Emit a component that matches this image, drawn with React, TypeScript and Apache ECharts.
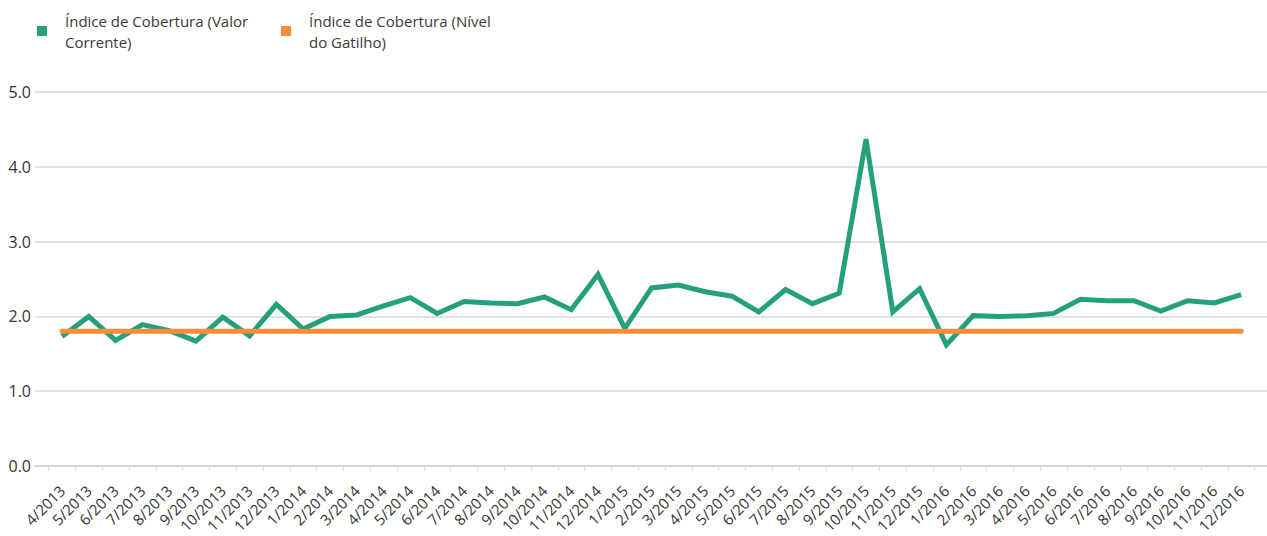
import React, { useEffect, useRef } from "react";
import * as echarts from "echarts";

const categories: string[] = [
  "4/2013", "5/2013", "6/2013", "7/2013", "8/2013", "9/2013", "10/2013", "11/2013", "12/2013",
  "1/2014", "2/2014", "3/2014", "4/2014", "5/2014", "6/2014", "7/2014", "8/2014", "9/2014", "10/2014", "11/2014", "12/2014",
  "1/2015", "2/2015", "3/2015", "4/2015", "5/2015", "6/2015", "7/2015", "8/2015", "9/2015", "10/2015", "11/2015", "12/2015",
  "1/2016", "2/2016", "3/2016", "4/2016", "5/2016", "6/2016", "7/2016", "8/2016", "9/2016", "10/2016", "11/2016", "12/2016",
];

const valorCorrente: number[] = [
  1.73, 2.0, 1.68, 1.89, 1.81, 1.67, 1.99, 1.74, 2.16,
  1.83, 2.0, 2.02, 2.14, 2.25, 2.04, 2.2, 2.18, 2.17, 2.26, 2.09, 2.56,
  1.84, 2.38, 2.42, 2.33, 2.27, 2.06, 2.36, 2.17, 2.31, 4.37, 2.06, 2.37,
  1.62, 2.01, 2.0, 2.01, 2.04, 2.23, 2.21, 2.21, 2.07, 2.21, 2.18, 2.29,
];

const nivelGatilho: number[] = [
  1.8, 1.8, 1.8, 1.8, 1.8, 1.8, 1.8, 1.8, 1.8,
  1.8, 1.8, 1.8, 1.8, 1.8, 1.8, 1.8, 1.8, 1.8, 1.8, 1.8, 1.8,
  1.8, 1.8, 1.8, 1.8, 1.8, 1.8, 1.8, 1.8, 1.8, 1.8, 1.8, 1.8,
  1.8, 1.8, 1.8, 1.8, 1.8, 1.8, 1.8, 1.8, 1.8, 1.8, 1.8, 1.8,
];

const yTicks = { min: 0, max: 5, interval: 1 };

const seriesNames = [
  "Índice de Cobertura (Valor Corrente)",
  "Índice de Cobertura (Nível do Gatilho)",
];
const legendLabels: Record<string, string> = {
  [seriesNames[0]]: "Índice de Cobertura (Valor\nCorrente)",
  [seriesNames[1]]: "Índice de Cobertura (Nível\ndo Gatilho)",
};

const GREEN = "#25a07c";
const ORANGE = "#f78c3b";
const FONT = "Open Sans";
const TEXT = "#333333";

export default function App() {
  const ref = useRef<HTMLDivElement>(null);
  useEffect(() => {
    if (!ref.current) return;
    const chart = echarts.init(ref.current, null, { renderer: "svg" });
    const legendBase = {
      top: 10,
      padding: 0,
      icon: "rect",
      itemWidth: 10,
      itemHeight: 10,
      itemGap: 0,
      textStyle: {
        fontFamily: FONT,
        fontSize: 15,
        lineHeight: 21,
        color: "#3a3a3a",
        padding: [0, 0, 0, 13],
      },
      formatter: (n: string) => legendLabels[n] || n,
      selectedMode: false,
    };
    chart.setOption({
      animation: false,
      backgroundColor: "#ffffff",
      legend: [
        { ...legendBase, left: 37, data: [seriesNames[0]] },
        { ...legendBase, left: 281, data: [seriesNames[1]] },
      ],
      grid: [
        { left: 48.6, right: 12.4, top: 92, bottom: 70, containLabel: false },
        { left: 35, right: 0, top: 92, bottom: 70, containLabel: false },
      ],
      xAxis: [
        {
          type: "category",
          gridIndex: 0,
          data: categories,
          boundaryGap: true,
          axisLine: { show: false },
          axisTick: { show: true, alignWithLabel: false, length: 5, lineStyle: { color: "#e0e0e0" } },
          axisLabel: {
            interval: 0,
            rotate: 45,
            fontFamily: FONT,
            fontSize: 15,
            color: TEXT,
            margin: 22,
          },
          z: 2,
        },
        {
          type: "value",
          gridIndex: 1,
          min: 0,
          max: 1,
          axisLine: { show: true, lineStyle: { color: "#cfcfcf", width: 1.5 } },
          axisTick: { show: false },
          axisLabel: { show: false },
          splitLine: { show: false },
        },
      ],
      yAxis: [
        {
          type: "value",
          gridIndex: 0,
          min: yTicks.min,
          max: yTicks.max,
          interval: yTicks.interval,
          axisLine: { show: false },
          axisTick: { show: false },
          axisLabel: { show: false },
          splitLine: { show: false },
        },
        {
          type: "value",
          gridIndex: 1,
          min: yTicks.min,
          max: yTicks.max,
          interval: yTicks.interval,
          axisLine: { show: false },
          axisTick: { show: false },
          splitLine: { lineStyle: { color: "#d9d9d9", width: 1.5 } },
          axisLabel: {
            fontFamily: FONT,
            fontSize: 16,
            color: TEXT,
            margin: 4,
            formatter: (v: number) => v.toFixed(1),
          },
        },
      ],
      series: [
        {
          name: seriesNames[0],
          type: "line",
          xAxisIndex: 0,
          yAxisIndex: 0,
          data: valorCorrente,
          symbol: "none",
          color: GREEN,
          lineStyle: { color: GREEN, width: 5, join: "miter" },
          z: 3,
        },
        {
          name: seriesNames[1],
          type: "line",
          xAxisIndex: 0,
          yAxisIndex: 0,
          data: nivelGatilho,
          symbol: "none",
          color: ORANGE,
          lineStyle: { color: ORANGE, width: 5, cap: "round" },
          z: 4,
        },
      ],
    });
    return () => chart.dispose();
  }, []);
  return (
    <div
      ref={ref}
      style={{ position: "absolute", left: 0, top: 0, width: 1267, height: 536 }}
    />
  );
}
